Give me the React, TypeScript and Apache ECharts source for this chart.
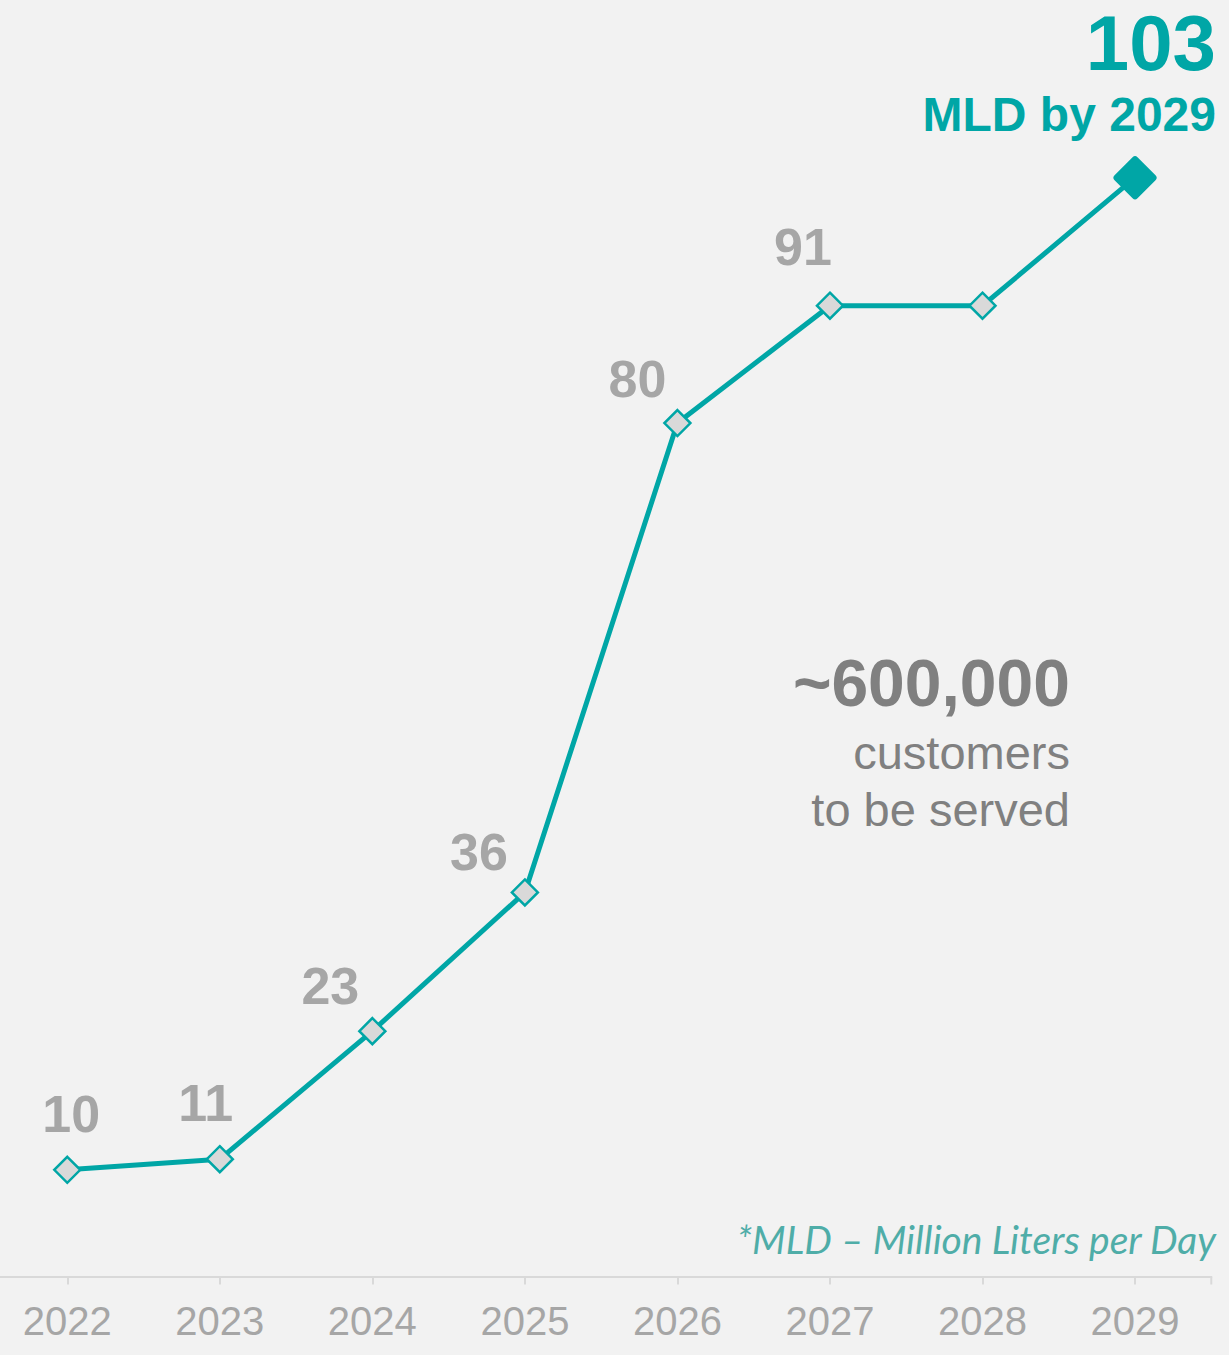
import React, { useEffect, useRef } from "react";
import * as echarts from "echarts";

const years = ["2022", "2023", "2024", "2025", "2026", "2027", "2028", "2029"];
const mld = [10, 11, 23, 36, 80, 91, 91, 103];
// label offset (px) from each point, null = no label
const labelOffsets: (number[] | null)[] = [
  [4, -56],
  [-14, -56],
  [-42, -45],
  [-46, -40],
  [-40, -44],
  [-27, -59],
  null,
  null,
];
const headlineUnit = "MLD by 2029";
const customersValue = "~600,000";
const customersLines = ["customers", "to be served"];
const footnote = "*MLD \u2013 Million Liters per Day";

const TEAL = "#00A6A6";
const GREY_LABEL = "#A6A6A6";
const GREY_TEXT = "#808080";
const BG = "#F2F2F2";
const FONT = "'Liberation Sans', Arial, sans-serif";
const SHIFT = 9; // chart canvas extends 9px beyond the left edge

export default function App() {
  const ref = useRef<HTMLDivElement>(null);
  useEffect(() => {
    document.body.style.margin = "0";
    if (!ref.current) return;
    const chart = echarts.init(ref.current, null, { renderer: "svg" });
    const last = mld.length - 1;
    const data = mld.map((v, i) => {
      const off = labelOffsets[i];
      const item: any = { value: v };
      if (i === last) {
        item.symbolSize = 36;
        item.itemStyle = {
          color: TEAL,
          borderColor: TEAL,
          borderWidth: 7,
          borderJoin: "round",
        };
        item.label = { show: false };
      } else if (off) {
        item.label = { show: true, position: "inside", offset: off };
      } else {
        item.label = { show: false };
      }
      return item;
    });
    const X = (x: number) => x + SHIFT;
    chart.setOption({
      animation: false,
      backgroundColor: BG,
      grid: { left: 0, right: 17.7, top: 103, bottom: 78.5, containLabel: false },
      xAxis: {
        type: "category",
        data: years,
        boundaryGap: true,
        axisLine: { show: true, lineStyle: { color: "#D9D9D9", width: 2 } },
        axisTick: {
          show: true,
          alignWithLabel: true,
          length: 8,
          lineStyle: { color: "#D9D9D9", width: 2 },
        },
        axisLabel: {
          color: GREY_LABEL,
          fontSize: 40,
          fontFamily: FONT,
          margin: 24,
        },
      },
      yAxis: {
        type: "value",
        min: 0,
        max: 110,
        show: false,
        splitLine: { show: false },
      },
      series: [
        {
          type: "line",
          data,
          symbol: "diamond",
          symbolSize: 26,
          z: 3,
          lineStyle: { color: TEAL, width: 5 },
          itemStyle: { color: "#D9D9D9", borderColor: TEAL, borderWidth: 2.5 },
          label: {
            color: GREY_LABEL,
            fontSize: 52,
            fontWeight: "bold",
            fontFamily: FONT,
            align: "center",
            verticalAlign: "middle",
          },
        },
      ],
      graphic: [
        {
          type: "line",
          shape: { x1: X(1211.3), y1: 1276.5, x2: X(1211.3), y2: 1284.5 },
          style: { stroke: "#D9D9D9", lineWidth: 2 },
        },
        {
          type: "text",
          x: X(1216),
          y: 43,
          style: {
            text: String(mld[last]),
            fill: TEAL,
            font: `bold 78px ${FONT}`,
            align: "right",
            verticalAlign: "middle",
          },
        },
        {
          type: "text",
          x: X(1216),
          y: 114,
          style: {
            text: headlineUnit,
            fill: TEAL,
            font: `bold 48px ${FONT}`,
            align: "right",
            verticalAlign: "middle",
          },
        },
        {
          type: "text",
          x: X(1070),
          y: 683,
          style: {
            text: customersValue,
            fill: GREY_TEXT,
            font: `bold 66px ${FONT}`,
            align: "right",
            verticalAlign: "middle",
          },
        },
        {
          type: "text",
          x: X(1070),
          y: 752,
          style: {
            text: customersLines[0],
            fill: GREY_TEXT,
            font: `47px ${FONT}`,
            align: "right",
            verticalAlign: "middle",
          },
        },
        {
          type: "text",
          x: X(1070),
          y: 809,
          style: {
            text: customersLines[1],
            fill: GREY_TEXT,
            font: `47px ${FONT}`,
            align: "right",
            verticalAlign: "middle",
          },
        },
        {
          type: "text",
          x: X(1216),
          y: 1239,
          style: {
            text: footnote,
            fill: "#4FADA8",
            font: `italic 39px Lato, 'Open Sans', sans-serif`,
            align: "right",
            verticalAlign: "middle",
          },
        },
      ],
    });
    return () => chart.dispose();
  }, []);
  return (
    <div style={{ width: 1229, height: 1355, overflow: "hidden", position: "relative" }}>
      <div
        ref={ref}
        style={{ position: "absolute", left: -SHIFT, top: 0, width: 1229 + SHIFT, height: 1355 }}
      />
    </div>
  );
}
